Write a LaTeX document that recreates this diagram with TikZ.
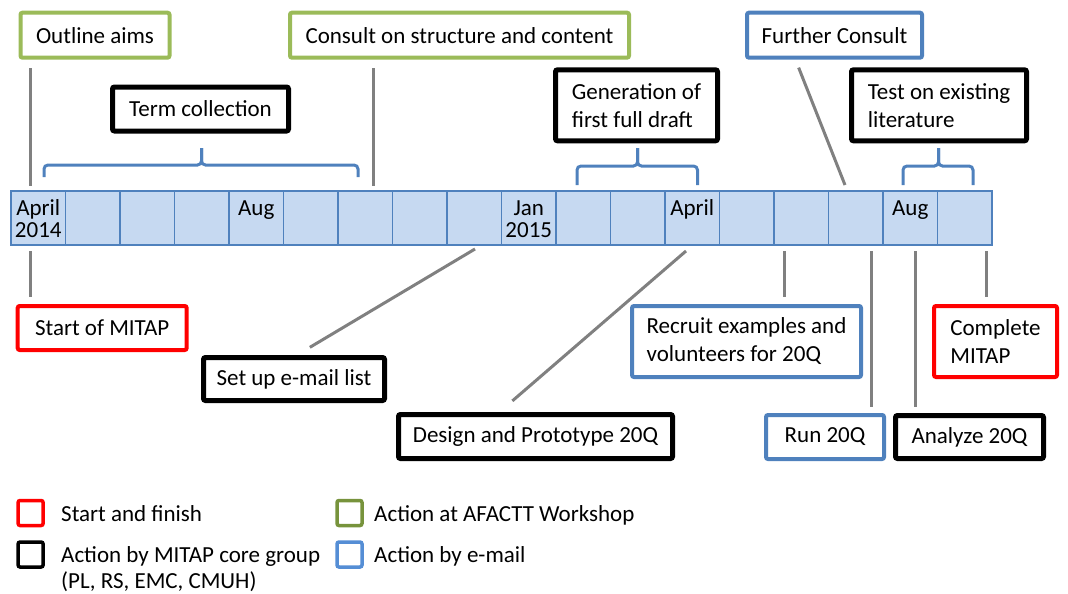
\documentclass[tikz,border=0pt]{standalone}
\usepackage{fontspec}
\setmainfont{Carlito}
\definecolor{wsgreen}{HTML}{9BBB59}
\definecolor{mailblue}{HTML}{4F81BD}
\definecolor{cellfill}{HTML}{C6D9F1}
\definecolor{legendgreen}{HTML}{77933C}
\definecolor{legendblue}{HTML}{558ED5}
\begin{document}
\begin{tikzpicture}[x=1pt,y=-1pt,
    every node/.style={font=\fontsize{23}{28}\selectfont},
    box/.style={draw,fill=white,rounded corners=2pt,inner sep=0pt,align=left,line width=4pt},
    workshop/.style={box,draw=wsgreen},
    email/.style={box,draw=mailblue},
    ends/.style={box,draw=red},
    core/.style={box,draw=black,line width=5pt},
    cell/.style={draw=mailblue,fill=cellfill,line width=1.2pt,minimum width=54.5,minimum height=54,inner sep=0pt},
    month/.style={anchor=base,inner sep=0pt},
    link/.style={draw=gray,line width=3pt},
    brace/.style={draw=mailblue,line width=3pt,rounded corners=4pt},
    legsq/.style={rounded corners=2pt,minimum width=25,minimum height=25,inner sep=0pt,line width=3.5pt},
    legtext/.style={anchor=base west,inner sep=0pt}]
\useasboundingbox (0,0) rectangle (1068,594);

% timeline: one cell per month, April 2014 to September 2015
\foreach \i in {0,...,17}
    \node[cell] (c\i) at (38.25+54.5*\i,218) {};
\foreach \i/\n/\t/\d in {0/a/April/25,0/b/2014/47,4/a/Aug/25,9/a/Jan/25,9/b/2015/47,12/a/April/25,16/a/Aug/25}
    \node[month] (m\i\n) at ([shift={(0,\d)}]c\i.north) {\t};

\foreach \a/\m/\b/\h/\e in {44/201.5/358/165/177,577/637.5/697.5/166/185,903/938.5/973/166/185}{
    \draw[brace] (\a,\e) |- (\m,\h) -- (\m,148);
    \draw[brace] (\b,\e) |- (\m,\h) -- (\m,148);
}

\node[workshop,minimum width=149,minimum height=45] (outline) at (95,35.2) {Outline aims};
\node[workshop,minimum width=339,minimum height=45] (consult) at (459.5,35.2) {Consult on structure and content};
\node[email,minimum width=175,minimum height=45] (further) at (834.5,35.2) {Further Consult};
\node[core,minimum width=176,minimum height=44] (term) at (200.5,109) {Term collection};
\node[core,minimum width=162,minimum height=71] (generation) at (636.5,105.3) {Generation of\\first full draft};
\node[core,minimum width=175,minimum height=71] (test) at (939,105.3) {Test on existing\\literature};
\node[ends,minimum width=169,minimum height=44] (start) at (102.2,328) {Start of MITAP};
\node[core,minimum width=181,minimum height=43] (setup) at (294,379) {Set up e-mail list};
\node[core,minimum width=274,minimum height=44] (design) at (535.5,436.5) {Design and Prototype 20Q};
\node[email,minimum width=229,minimum height=71] (recruit) at (746.5,341.5) {Recruit examples and\\volunteers for 20Q};
\node[ends,minimum width=123,minimum height=71] (complete) at (995.5,341.5) {Complete\\MITAP};
\node[email,minimum width=118,minimum height=44] (run) at (825,437) {Run 20Q};
\node[core,minimum width=148,minimum height=43] (analyze) at (969.5,437) {Analyze 20Q};

\foreach \n/\x/\y in {t1/30/185.5,t2/373/185.5,t3/845/185,b1/30/251,b2/475/249,b3/686/251,b4/784/251,b5/871/251,b6/915/251,b7/986/251}
    \coordinate (\n) at (\x,\y);
\draw[link,shorten <=8.5pt] (outline.south -| t1) -- (t1);
\draw[link,shorten <=8.5pt] (consult.south -| t2) -- (t2);
\draw[link,shorten <=8.5pt] ([xshift=-39pt]further.south) -- (t3);
\draw[link,shorten >=7pt] (b1) -- (b1 |- start.north);
\draw[link,shorten >=15pt] (b2) -- ([xshift=3pt]setup.north);
\draw[link,shorten >=17pt] (b3) -- ([xshift=-36pt]design.north);
\draw[link,shorten >=7pt] (b4) -- (b4 |- recruit.north);
\draw[link,shorten >=6.5pt] (b5) -- (b5 |- run.north);
\draw[link,shorten >=6.5pt] (b6) -- (b6 |- analyze.north);
\draw[link,shorten >=7pt] (b7) -- (b7 |- complete.north);

% legend
\node[legsq,draw=red] (kred) at (30.6,513) {};
\node[legsq,draw=legendgreen] (kgreen) at (349.5,513) {};
\node[legsq,draw=black] (kblack) at (30.6,554.5) {};
\node[legsq,draw=legendblue] (kblue) at (349.5,554.5) {};
\node[legtext] (lred) at (61,521) {Start and finish};
\node[legtext] (lgreen) at (374,521) {Action at AFACTT Workshop};
\node[legtext] (lblack) at (61,562) {Action by MITAP core group};
\node[legtext] (lblack2) at (61,588) {(PL, RS, EMC, CMUH)};
\node[legtext] (lblue) at (374,562) {Action by e-mail};
\end{tikzpicture}
\end{document}
